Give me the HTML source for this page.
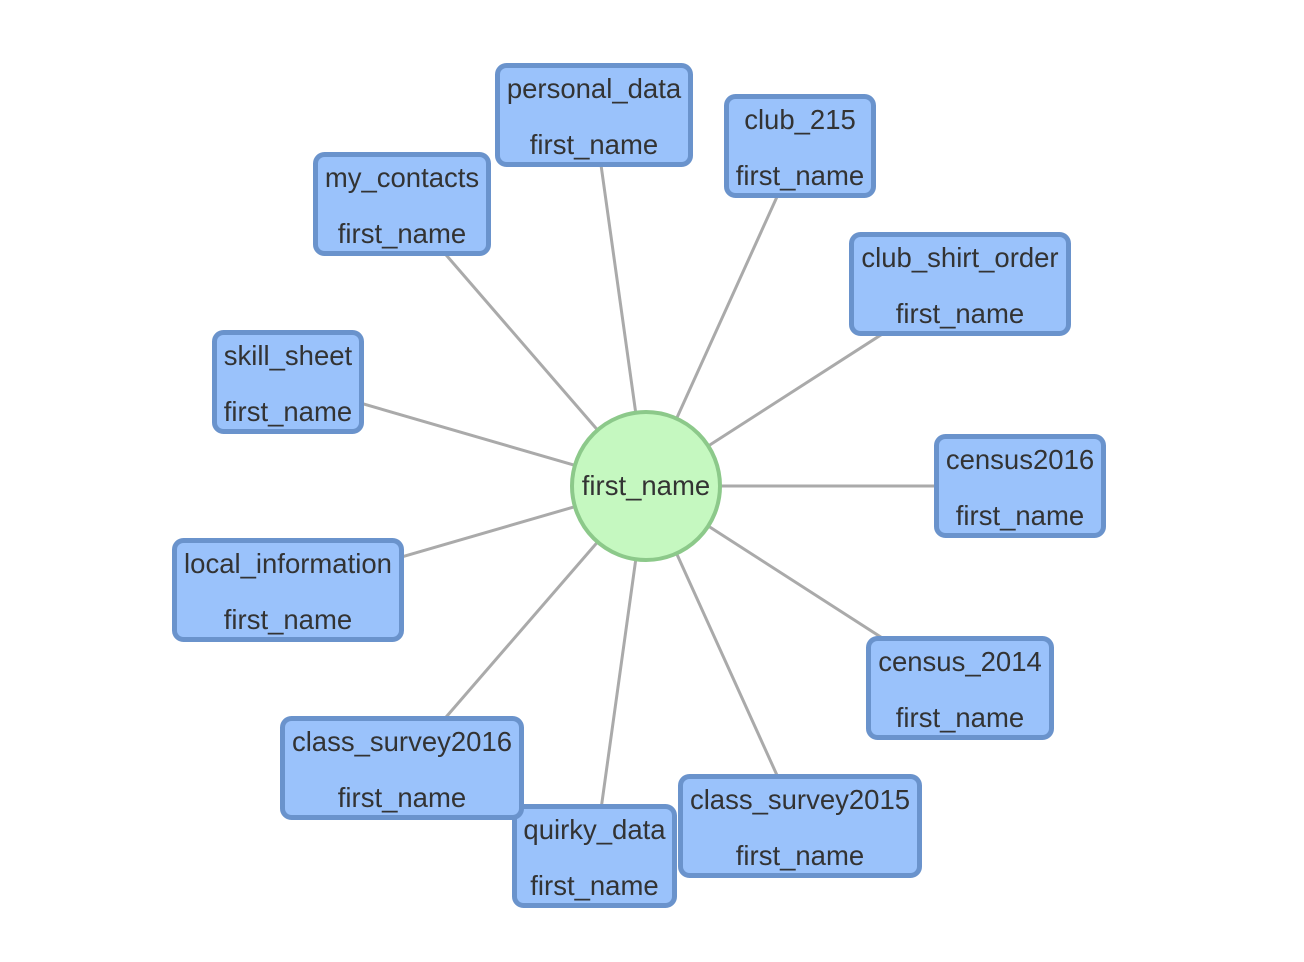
<!DOCTYPE html>
<html><head><meta charset="utf-8"><style>
html,body{margin:0;padding:0;background:#fff;}
svg{display:block;font-family:"Liberation Sans",Arial,sans-serif;}
</style></head><body>
<svg id="g" width="1304" height="962" viewBox="0 0 1304 962"></svg>
<script>
const labels=["personal_data","club_215","my_contacts","club_shirt_order","skill_sheet","census2016","local_information","census_2014","quirky_data","class_survey2016","class_survey2015"];
const field=["first_name","first_name","first_name","first_name","first_name","first_name","first_name","first_name","first_name","first_name","first_name"];
const bx=[495,724,313,849,212,934,172,866,512,280,678];
const by=[63,94,152,232,330,434,538,636,804,716,774];
const bw=[198,152,178,222,152,172,232,188,165,244,244];
const center={x:646,y:486,r:74,label:"first_name"};
const NS="http://www.w3.org/2000/svg";
const svg=document.getElementById('g');
function mk(t,a){const e=document.createElementNS(NS,t);for(const k in a)e.setAttribute(k,a[k]);return e;}
const H=104;
labels.forEach((l,i)=>{
  const e=mk('line',{x1:center.x,y1:center.y,x2:bx[i]+bw[i]/2,y2:by[i]+H/2,stroke:'#aaaaaa','stroke-width':3});
  
  
  svg.appendChild(e);
});
const c=mk('circle',{cx:center.x,cy:center.y,r:center.r,fill:'#c5f8c0',stroke:'#8cc98a','stroke-width':4});


svg.appendChild(c);
const ct=mk('text',{x:center.x,y:center.y+9,'text-anchor':'middle','font-size':27.5,fill:'#333'});
ct.textContent=center.label;


svg.appendChild(ct);
labels.forEach((l,i)=>{
  const g=mk('g',{});
  
  
  g.appendChild(mk('rect',{x:bx[i]+2.5,y:by[i]+2.5,width:bw[i]-5,height:H-5,rx:9,fill:'#9ac2fb',stroke:'#6a93cc','stroke-width':5}));
  const cx=bx[i]+bw[i]/2;
  const t1=mk('text',{x:cx,y:by[i]+35,'text-anchor':'middle','font-size':27.5,fill:'#333'});
  t1.textContent=l;
  
  
  const t2=mk('text',{x:cx,y:by[i]+91,'text-anchor':'middle','font-size':27.5,fill:'#333'});
  t2.textContent=field[i];
  
  
  g.appendChild(t1);g.appendChild(t2);
  svg.appendChild(g);
});
</script>
</body></html>
